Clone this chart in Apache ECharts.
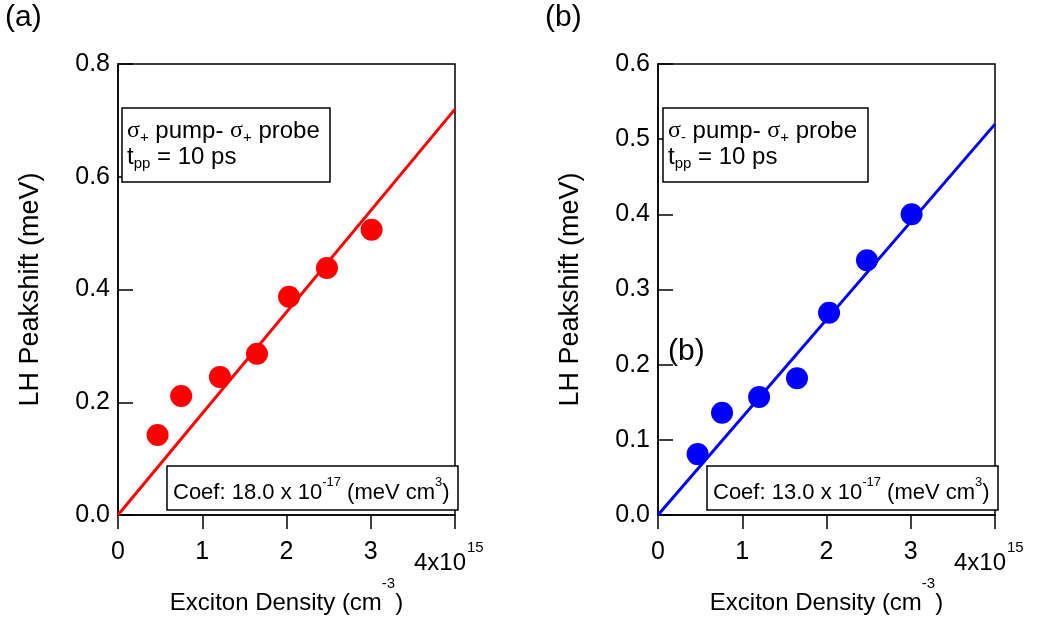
<!DOCTYPE html>
<html><head><meta charset="utf-8">
<script src="https://cdn.jsdelivr.net/npm/echarts@6/dist/echarts.min.js"></script>
<style>html,body{margin:0;padding:0;background:#fff}#c{width:1039px;height:630px}</style>
</head><body><div id="c"></div>
<script>
// ---- data ----
const xTicks = [0, 1, 2, 3, 4];               // x1e15 cm^-3
const yTicksA = [0, 0.2, 0.4, 0.6, 0.8];
const yTicksB = [0, 0.1, 0.2, 0.3, 0.4, 0.5, 0.6];
const densA = [0.47, 0.75, 1.21, 1.65, 2.03, 2.48, 3.01];
const shiftA = [0.142, 0.211, 0.245, 0.286, 0.387, 0.438, 0.506];
const densB = [0.47, 0.76, 1.20, 1.65, 2.03, 2.48, 3.01];
const shiftB = [0.081, 0.136, 0.157, 0.182, 0.269, 0.339, 0.400];
const fitX = [0, 4];
const fitA = [0, 0.72];
const fitB = [0, 0.52];
const coefA = '18.0';
const coefB = '13.0';

const FF = '"Liberation Sans", Arial, sans-serif';
const RED = '#ff0000', BLUE = '#0000ff';

const chart = echarts.init(document.getElementById('c'), null, {renderer: 'canvas'});

function xAxisCfg(gi) {
  return {
    type: 'value', gridIndex: gi, min: xTicks[0], max: xTicks[xTicks.length - 1], interval: 1,
    axisLine: {lineStyle: {color: '#000', width: 1.5}},
    axisTick: {length: 14, lineStyle: {color: '#000', width: 1.5}},
    axisLabel: {fontSize: 25, color: '#000', fontFamily: FF, margin: 25,
      formatter: v => v === 4 ? '' : String(v)},
    splitLine: {show: false},
    name: '{n|Exciton Density (cm}{s|-3}{n|)}',
    nameLocation: 'middle', nameGap: 61,
    nameTextStyle: {rich: {
      n: {fontSize: 24, color: '#000', fontFamily: FF, lineHeight: 39, verticalAlign: 'bottom'},
      s: {fontSize: 15, color: '#000', fontFamily: FF, verticalAlign: 'top'}
    }}
  };
}
function yAxisCfg(gi, ticks) {
  return {
    type: 'value', gridIndex: gi, min: 0, max: ticks[ticks.length - 1], interval: ticks[1] - ticks[0],
    axisLine: {lineStyle: {color: '#000', width: 1.5}},
    axisTick: {inside: true, length: 15, lineStyle: {color: '#000', width: 1.5}},
    axisLabel: {fontSize: 25, color: '#000', fontFamily: FF, margin: 8, formatter: v => v.toFixed(1)},
    splitLine: {show: false},
    name: 'LH Peakshift (meV)', nameLocation: 'middle', nameGap: 74,
    nameTextStyle: {fontSize: 27, color: '#000', fontFamily: FF}
  };
}
function pairs(xs, ys) { return xs.map((x, i) => [x, ys[i]]); }

const option = {
  animation: false,
  backgroundColor: '#fff',
  grid: [
    {left: 118, top: 64, width: 337, height: 451, show: true, borderColor: '#000', borderWidth: 1.5},
    {left: 658, top: 64, width: 337, height: 451, show: true, borderColor: '#000', borderWidth: 1.5}
  ],
  xAxis: [xAxisCfg(0), xAxisCfg(1)],
  yAxis: [yAxisCfg(0, yTicksA), yAxisCfg(1, yTicksB)],
  series: [
    {type: 'line', xAxisIndex: 0, yAxisIndex: 0, data: pairs(fitX, fitA), showSymbol: false,
      lineStyle: {color: RED, width: 3}, z: 2},
    {type: 'scatter', xAxisIndex: 0, yAxisIndex: 0, data: pairs(densA, shiftA), symbolSize: 22,
      itemStyle: {color: RED, opacity: 1}, z: 3},
    {type: 'line', xAxisIndex: 1, yAxisIndex: 1, data: pairs(fitX, fitB), showSymbol: false,
      lineStyle: {color: BLUE, width: 3}, z: 2},
    {type: 'scatter', xAxisIndex: 1, yAxisIndex: 1, data: pairs(densB, shiftB), symbolSize: 22,
      itemStyle: {color: BLUE, opacity: 1}, z: 3}
  ]
};
chart.setOption(option);

const p4a = chart.convertToPixel({gridIndex: 0}, [4, 0]);
const p4b = chart.convertToPixel({gridIndex: 1}, [4, 0]);

const richBox1 = {
  n: {fontSize: 24, fontFamily: FF, color: '#000', lineHeight: 26, verticalAlign: 'top'},
  g: {fontSize: 24, fontFamily: '"Liberation Serif", serif', color: '#000', lineHeight: 26, verticalAlign: 'top'},
  sub: {fontSize: 15, fontFamily: FF, color: '#000', verticalAlign: 'bottom'}
};
const richBox2 = {
  n: {fontSize: 22, fontFamily: FF, color: '#000', lineHeight: 28, verticalAlign: 'bottom'},
  sup: {fontSize: 13, fontFamily: FF, color: '#000', verticalAlign: 'top'}
};

function boxes(first, coef, b1, b2) {
  return [
    {type: 'rect', shape: {x: b1[0], y: b1[1], width: b1[2], height: b1[3]},
      style: {fill: '#fff', stroke: '#000', lineWidth: 1.5}, z: 50},
    {type: 'text', left: b1[0] + 5, top: 119, z: 51,
      style: {text: '{g|σ}{sub|' + first + '}{n| pump- }{g|σ}{sub|+}{n| probe}\n{n|t}{sub|pp}{n| = 10 ps}', rich: richBox1}},
    {type: 'rect', shape: {x: b2[0], y: b2[1], width: b2[2], height: b2[3]},
      style: {fill: '#fff', stroke: '#000', lineWidth: 1.5}, z: 50},
    {type: 'text', left: b2[0] + 6, top: 476, z: 51,
      style: {text: '{n|Coef: ' + coef + ' x 10}{sup|-17}{n| (meV cm}{sup|3}{n|)}', rich: richBox2}}
  ];
}
function xMaxLabel(p) {
  return [
    {type: 'text', left: p[0] - 41, top: 551, z: 51,
      style: {text: '4x10', font: '24px ' + FF, fill: '#000'}},
    {type: 'text', left: p[0] + 12, top: 540, z: 51,
      style: {text: '15', font: '15px ' + FF, fill: '#000'}}
  ];
}

chart.setOption({
  graphic: [
    {type: 'text', left: 5, top: 3, style: {text: '(a)', font: '30px ' + FF, fill: '#000'}},
    {type: 'text', left: 545, top: 3, style: {text: '(b)', font: '30px ' + FF, fill: '#000'}},
    {type: 'text', left: 668, top: 337, z: 51, style: {text: '(b)', font: '30px ' + FF, fill: '#000'}},
    ...boxes('+', coefA, [122, 108, 208, 74], [167, 466, 291, 44]),
    ...boxes('-', coefB, [663, 108, 205, 74], [707, 466, 291, 44]),
    ...xMaxLabel(p4a),
    ...xMaxLabel(p4b)
  ]
});
</script>
</body></html>
